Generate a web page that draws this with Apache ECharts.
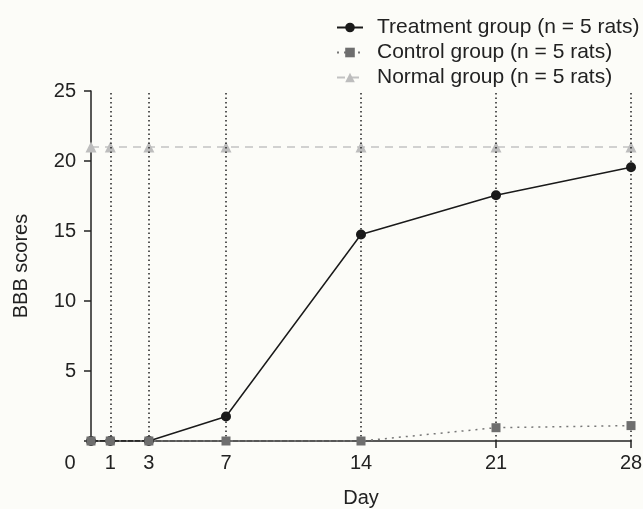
<!DOCTYPE html>
<html>
<head>
<meta charset="utf-8">
<script src="https://cdn.jsdelivr.net/npm/echarts@6/dist/echarts.min.js"></script>
<style>
html,body{margin:0;padding:0;background:#fcfcf8;}
#chart{width:643px;height:509px;}
</style>
</head>
<body>
<div id="chart"></div>
<script>
const days = [0, 1, 3, 7, 14, 21, 28];
const tickLabels = [0, 1, 3, 7, 14, 21, 28];
const guideDays = [1, 3, 7, 14, 21, 28];
const treatment = [0, 0, 0, 1.75, 14.75, 17.55, 19.55];
const control = [0, 0, 0, 0, 0, 0.95, 1.1];
const normal = [21, 21, 21, 21, 21, 21, 21];
const seriesNames = ['Treatment group (n = 5 rats)', 'Control group (n = 5 rats)', 'Normal group (n = 5 rats)'];

const FONT = '"Liberation Sans", Arial, Helvetica, sans-serif';
const pairs = arr => days.map((d, i) => [d, arr[i]]);

const chart = echarts.init(document.getElementById('chart'), null, {renderer: 'canvas'});
chart.setOption({
  backgroundColor: '#fcfcf8',
  animation: false,
  textStyle: {fontFamily: FONT},
  grid: {left: 91, right: 12, top: 91, bottom: 68, containLabel: false, outerBoundsMode: 'none'},
  legend: {
    data: seriesNames,
    orient: 'vertical',
    left: 331,
    top: 12,
    align: 'left',
    itemWidth: 26,
    itemHeight: 12,
    itemGap: 4,
    textStyle: {fontFamily: FONT, fontSize: 21, lineHeight: 21, color: '#222', padding: [0, 0, 0, 9]}
  },
  xAxis: {
    type: 'value',
    min: 0,
    max: 28,
    name: 'Day',
    nameLocation: 'middle',
    nameGap: 47,
    nameTextStyle: {fontFamily: FONT, fontSize: 20, color: '#222'},
    axisLine: {show: true, onZero: false, lineStyle: {color: '#222', width: 1.5}},
    axisTick: {show: true, customValues: [21, 28], length: 7, lineStyle: {color: '#222', width: 1.5}},
    axisLabel: {
      customValues: tickLabels,
      margin: 12,
      fontFamily: FONT,
      fontSize: 20,
      color: '#222',
      formatter: v => v === 0 ? '{z|0}' : String(v),
      rich: {z: {fontFamily: FONT, fontSize: 20, color: '#222', padding: [0, 42, 0, 0]}}
    },
    splitLine: {show: false}
  },
  yAxis: {
    type: 'value',
    min: 0,
    max: 25,
    interval: 5,
    name: 'BBB scores',
    nameLocation: 'middle',
    nameGap: 60,
    nameTextStyle: {fontFamily: FONT, fontSize: 20, color: '#222'},
    axisLine: {show: true, onZero: false, lineStyle: {color: '#222', width: 1.5}},
    axisTick: {show: true, length: 7, lineStyle: {color: '#222', width: 1.5}},
    axisLabel: {
      margin: 15,
      fontFamily: FONT,
      fontSize: 20,
      color: '#222',
      formatter: v => v === 0 ? '' : String(v)
    },
    splitLine: {show: false}
  },
  series: [
    {
      name: 'guides',
      type: 'line',
      data: [],
      z: 1,
      silent: true,
      markLine: {
        silent: true,
        symbol: ['none', 'none'],
        label: {show: false},
        lineStyle: {color: '#222', width: 1.5, type: [1.5, 3]},
        data: guideDays.map(d => ({xAxis: d}))
      }
    },
    {
      name: seriesNames[2],
      type: 'line',
      z: 3,
      data: pairs(normal),
      symbol: 'triangle',
      symbolSize: 11,
      itemStyle: {color: '#bdbdbd'},
      lineStyle: {color: '#c2c2c2', width: 1.5, type: [8, 6]}
    },
    {
      name: seriesNames[0],
      type: 'line',
      z: 4,
      data: pairs(treatment),
      symbol: 'circle',
      symbolSize: 10,
      itemStyle: {color: '#1a1a1a'},
      lineStyle: {color: '#1a1a1a', width: 1.5}
    },
    {
      name: seriesNames[1],
      type: 'line',
      z: 5,
      data: pairs(control),
      symbol: 'rect',
      symbolSize: 9,
      itemStyle: {color: '#6e6e6e'},
      lineStyle: {color: '#777', width: 1.5, type: [2, 5]}
    }
  ]
});
</script>
</body>
</html>
